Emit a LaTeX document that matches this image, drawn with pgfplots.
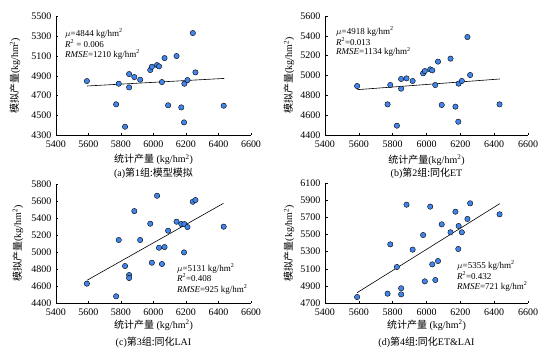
\documentclass[border=0pt]{standalone}
\usepackage{fontspec}
\setmainfont{Liberation Serif}
\newfontfamily\cjk{Noto Sans CJK SC}
\usepackage{pgfplots}
\usepackage{pgfplotstable}
\pgfplotsset{compat=1.18}
\definecolor{dotblue}{RGB}{66,133,234}
\pgfplotstableread{
x a b c d
5590 4847 4894 4628 4770
5770 4611 4709 4479 4809
5786 4820 4904 5143 5386
5825 4384 4494 4836 5121
5850 4918 4965 4730 4872
5850 4783 4867 4695 4801
5882 4888 4971 5484 5850
5918 4861 4945 5143 5324
5980 4959 5022 5335 5495
5990 4992 5045 4875 4953
6022 5009 5062 5665 5827
6034 4996 5052 5052 5152
6052 4837 4904 4860 4969
6068 5080 5140 5060 5191
6090 4601 4703 5253 5620
6142 5101 5170 5359 5527
6171 4580 4686 5331 5768
6188 4428 4534 4997 5332
6190 4820 4918 5331 5601
6209 4857 4945 5296 5527
6242 5334 5388 5594 5683
6258 4935 5005 5614 5866
6432 4597 4709 5300 5737
}\datatable
\pgfplotsset{
  myax/.style={
    scale only axis, anchor=south west,
    axis x line*=bottom, axis y line*=left,
    tick align=inside, major tick length=2.5pt,
    xmin=5400, xmax=6600, xtick={5400,5600,...,6600},
    every tick/.style={black, line width=0.5pt},
    axis line style={black, line width=0.5pt},
    tick label style={font=\fontsize{10}{12}\selectfont},
    xticklabel style={yshift=-2pt},
    yticklabel style={xshift=-1pt},
    /pgf/number format/assume math mode=true,
    /pgf/number format/set thousands separator={},
    label style={font=\fontsize{10}{12}\selectfont},
    clip=false,
  },
  dots/.style={only marks, mark=*, mark size=2.7pt, mark options={draw=none, fill=dotblue}},
  trend/.style={black, line width=0.6pt, no marks},
}
\newcommand{\anno}{\fontsize{9}{10.5}\selectfont}
\begin{document}
\begin{tikzpicture}
\path[use as bounding box] (0,0) rectangle (542pt,357pt);
% (a)
\begin{axis}[myax, at={(56pt,222pt)}, width=195pt, height=118.3pt,
  ymin=4300, ymax=5500, ytick={4300,4500,...,5500},
  xlabel={{\cjk 统计产量} (kg/hm\textsuperscript{2})},
  ylabel={{\cjk 模拟产量}(kg/hm\textsuperscript{2})},
  every axis x label/.style={at={(axis description cs:0.5,-0.21)}, anchor=center},
  every axis y label/.style={at={(axis description cs:-0.21,0.5)}, rotate=90, anchor=center}]
\addplot[dots] table[x=x,y=a]{\datatable};
\addplot[trend] coordinates {(5590,4797) (6436,4874)};
\node[anchor=north west, align=left, inner sep=0pt, font=\anno] at (axis description cs:0.046,0.9)
  {$\mu$=4844 kg/hm\textsuperscript{2}\\\textit{R}\textsuperscript{2} = 0.006\\\textit{RMSE}=1210 kg/hm\textsuperscript{2}};
\node[font=\fontsize{10}{12}\selectfont] at (axis description cs:0.5,-0.32) {(a){\cjk 第}1{\cjk 组:模型模拟}};
\end{axis}
% (b)
\begin{axis}[myax, at={(325pt,222pt)}, width=203pt, height=119pt,
  ymin=4400, ymax=5600, ytick={4400,4600,...,5600},
  xlabel={{\cjk 统计产量}(kg/hm\textsuperscript{2})},
  ylabel={{\cjk 模拟产量}(kg/hm\textsuperscript{2})},
  every axis x label/.style={at={(axis description cs:0.5,-0.21)}, anchor=center},
  every axis y label/.style={at={(axis description cs:-0.177,0.5)}, rotate=90, anchor=center}]
\addplot[dots] table[x=x,y=b]{\datatable};
\addplot[trend] coordinates {(5590,4857) (6434,4965)};
\node[anchor=north west, align=left, inner sep=0pt, font=\fontsize{9}{9.5}\selectfont] at (axis description cs:0.054,0.91)
  {$\mu$=4918 kg/hm\textsuperscript{2}\\\textit{R}\textsuperscript{2}=0.013\\\textit{RMSE}=1134 kg/hm\textsuperscript{2}};
\node[font=\fontsize{10}{12}\selectfont] at (axis description cs:0.5,-0.32) {(b){\cjk 第}2{\cjk 组:同化}ET};
\end{axis}
% (c)
\begin{axis}[myax, at={(56pt,54pt)}, width=195pt, height=118.7pt,
  ymin=4400, ymax=5800, ytick={4400,4600,...,5800},
  xlabel={{\cjk 统计产量} (kg/hm\textsuperscript{2})},
  ylabel={{\cjk 模拟产量}(kg/hm\textsuperscript{2})},
  every axis x label/.style={at={(axis description cs:0.5,-0.185)}, anchor=center},
  every axis y label/.style={at={(axis description cs:-0.195,0.5)}, rotate=90, anchor=center}]
\addplot[dots] table[x=x,y=c]{\datatable};
\addplot[trend] coordinates {(5590,4667) (6430,5575)};
\node[anchor=north west, align=left, inner sep=0pt, font=\anno] at (axis description cs:0.62,0.335)
  {$\mu$=5131 kg/hm\textsuperscript{2}\\\textit{R}\textsuperscript{2}=0.408\\\textit{RMSE}=925 kg/hm\textsuperscript{2}};
\node[font=\fontsize{10}{12}\selectfont] at (axis description cs:0.5,-0.33) {(c){\cjk 第}3{\cjk 组:同化}LAI};
\end{axis}
% (d)
\begin{axis}[myax, at={(325pt,54pt)}, width=203pt, height=119.7pt,
  ymin=4700, ymax=6100, ytick={4700,4900,...,6100},
  xlabel={{\cjk 统计产量} (kg/hm\textsuperscript{2})},
  ylabel={{\cjk 模拟产量}(kg/hm\textsuperscript{2})},
  every axis x label/.style={at={(axis description cs:0.5,-0.185)}, anchor=center},
  every axis y label/.style={at={(axis description cs:-0.177,0.5)}, rotate=90, anchor=center}]
\addplot[dots] table[x=x,y=d]{\datatable};
\addplot[trend] coordinates {(5590,4821) (6433,5862)};
\node[anchor=north west, align=left, inner sep=0pt, font=\anno] at (axis description cs:0.65,0.355)
  {$\mu$=5355 kg/hm\textsuperscript{2}\\\textit{R}\textsuperscript{2}=0.432\\\textit{RMSE}=721 kg/hm\textsuperscript{2}};
\node[font=\fontsize{10}{12}\selectfont] at (axis description cs:0.5,-0.33) {(d){\cjk 第}4{\cjk 组:同化}ET\&LAI};
\end{axis}
\end{tikzpicture}
\end{document}
